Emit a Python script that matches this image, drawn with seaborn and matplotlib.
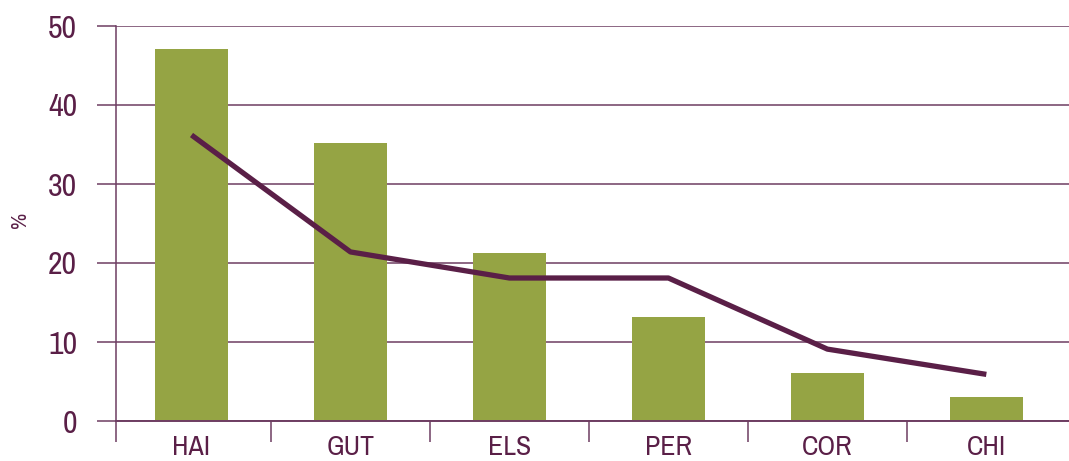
import matplotlib
matplotlib.use("Agg")
import matplotlib.pyplot as plt
from matplotlib import font_manager
import seaborn as sns
import numpy as np
import pandas as pd
from matplotlib.ticker import FixedLocator

categories = ["HAI", "GUT", "ELS", "PER", "COR", "CHI"]
bar_values = [47.1, 35.2, 21.3, 13.2, 6.1, 3.0]
line_values = [36.2, 21.4, 18.1, 18.1, 9.1, 5.9]
y_ticks = [0, 10, 20, 30, 40, 50]

GREEN = "#95A444"
PURPLE = "#5A1F47"
GRID = "#6E3D62"

# pick a condensed / narrow face if one is installed
cond_name = None
cond_stretch = "normal"
for f in font_manager.fontManager.ttflist:
    nm = f.name
    if ("Narrow" in nm or "Condensed" in nm) and f.weight in (400, "normal", "regular"):
        cond_name = nm
        break
if cond_name is None:
    for f in font_manager.fontManager.ttflist:
        st = f.stretch
        if (isinstance(st, str) and "condensed" in st) or (isinstance(st, int) and st < 500):
            cond_name = f.name
            cond_stretch = st
            break

sns.set_theme(style="white")
fam = [cond_name, "DejaVu Sans"] if cond_name else ["DejaVu Sans"]
plt.rcParams["font.family"] = fam
plt.rcParams["font.stretch"] = cond_stretch if cond_name else "condensed"

fig = plt.figure(figsize=(10.69, 4.61), dpi=100)
ax = fig.add_axes([116 / 1069, 40 / 461, 1 - 116 / 1069, (421 - 26) / 461])

df = pd.DataFrame({"cat": categories, "bar": bar_values, "line": line_values})
sns.barplot(data=df, x="cat", y="bar", color=GREEN, width=0.46,
            saturation=1, ax=ax, zorder=2, linewidth=0)
sns.lineplot(x=np.arange(len(categories)), y=df["line"], color=PURPLE,
             linewidth=3.8, ax=ax, zorder=3, solid_capstyle="butt")

ax.set_xlim(-0.475, len(categories) - 0.48)
ax.set_ylim(0, 50)
ax.set_yticks(y_ticks)
ax.yaxis.grid(True, color=GRID, linewidth=1.1, zorder=0)
ax.set_axisbelow(True)

for s in ["top", "right"]:
    ax.spines[s].set_visible(False)
ax.spines["left"].set_color(GRID)
ax.spines["left"].set_linewidth(1.1)
ax.spines["bottom"].set_color(GRID)
ax.spines["bottom"].set_linewidth(1.4)

ax.tick_params(axis="y", which="major", length=14, width=1.1, color=GRID,
               pad=14, labelsize=23, labelcolor=PURPLE, left=True)
ax.tick_params(axis="x", which="major", length=0, pad=10,
               labelsize=20, labelcolor=PURPLE, bottom=True)
minor_pos = [-0.475] + list(np.arange(0.5, len(categories) - 1, 1.0))
ax.xaxis.set_minor_locator(FixedLocator(minor_pos))
ax.tick_params(axis="x", which="minor", length=15, width=1.1, color=GRID,
               direction="out", bottom=True)

ax.set_xlabel("")
ax.set_ylabel("%", color=PURPLE, fontsize=16)
ax.yaxis.set_label_coords(-0.09, 0.51)

fig.savefig("out.png", dpi=100)
